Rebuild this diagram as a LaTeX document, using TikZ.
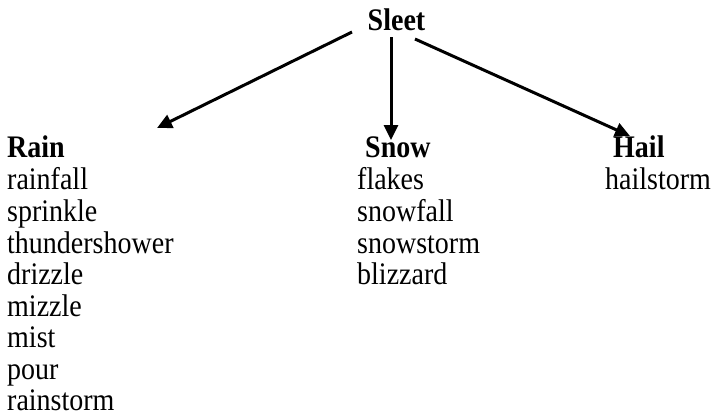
\documentclass[tikz,border=0pt]{standalone}
\usepackage{fontspec}
\usepackage{graphicx}
\setmainfont{Liberation Serif}
\usetikzlibrary{arrows.meta}
\newcommand{\tallword}[1]{\scalebox{1}[1.12]{#1}}
\tikzset{
  word/.style={anchor=base west, inner sep=0pt, font=\fontsize{28}{32}\selectfont},
  head/.style={word, font=\fontsize{28}{32}\selectfont\bfseries},
  arr/.style={line width=3pt, -{Triangle[length=15pt,width=14pt]}}
}
\begin{document}
\begin{tikzpicture}[x=1pt,y=-1pt]
                \useasboundingbox (0,0) rectangle (714,416);
                \node[head, anchor=base] (sleet) at (396.5,30) {\tallword{Sleet}};
                \node[head] (rain) at (7,157) {\tallword{Rain}};
                \node[head] (snow) at (365,157) {\tallword{Snow}};
                \node[head] (hail) at (613,157) {\tallword{Hail}};
                \node[word] (rainfall) at (7,189) {\tallword{rainfall}};
                \node[word] (sprinkle) at (7,221) {\tallword{sprinkle}};
                \node[word] (thunder) at (7,253) {\tallword{thundershower}};
                \node[word] (drizzle) at (7,284.5) {\tallword{drizzle}};
                \node[word] (mizzle) at (7,316) {\tallword{mizzle}};
                \node[word] (mist) at (7,347.5) {\tallword{mist}};
                \node[word] (pour) at (7,379) {\tallword{pour}};
                \node[word] (rainstorm) at (7,410.5) {\tallword{rainstorm}};
                \node[word] (flakes) at (357,189) {\tallword{flakes}};
                \node[word] (snowfall) at (357,221) {\tallword{snowfall}};
                \node[word] (snowstorm) at (357,253) {\tallword{snowstorm}};
                \node[word] (blizzard) at (357,284.5) {\tallword{blizzard}};
                \node[word] (hailstorm) at (605,189) {\tallword{hailstorm}};
                \coordinate (sleetL) at (352,32);
                \coordinate (sleetM) at (391,37);
                \coordinate (sleetR) at (415,39);
                \coordinate (rainTip) at (157,128);
                \coordinate (snowTip) at (391,140);
                \coordinate (hailTip) at (630,136);
                \draw[arr] (sleetL) -- (rainTip);
                \draw[arr] (sleetM) -- (snowTip);
                \draw[arr] (sleetR) -- (hailTip);
\end{tikzpicture}
\end{document}
